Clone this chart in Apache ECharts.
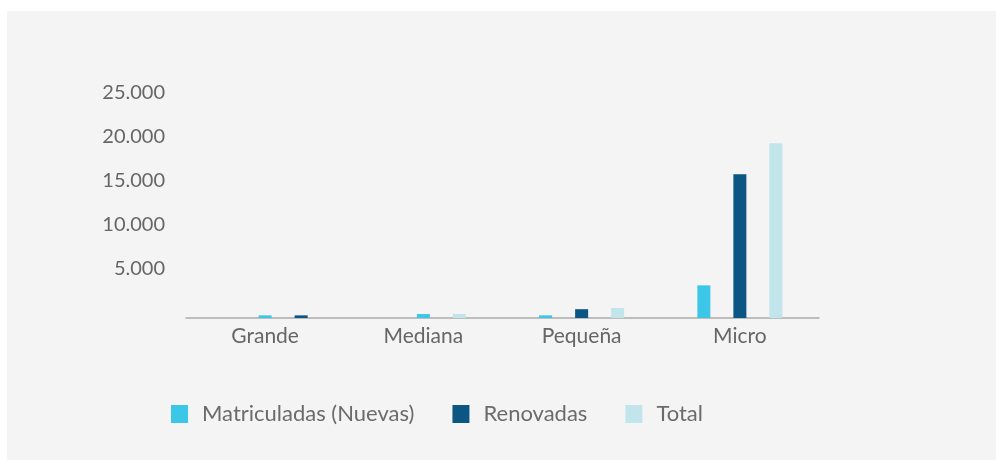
<!DOCTYPE html>
<html>
<head>
<meta charset="utf-8">
<script src="https://cdn.jsdelivr.net/npm/echarts@6/dist/echarts.min.js"></script>
<style>
  html, body { margin: 0; padding: 0; background: #ffffff; }
  #chart { position: absolute; left: 7px; top: 11px; width: 989px; height: 449px; background: #f4f4f4; }
</style>
</head>
<body>
<div id="chart"></div>
<script>
// Categories and bar values by slot (left, middle, right).
const categories = ["Grande", "Mediana", "Pequeña", "Micro"]
const seriesNames = ["Matriculadas (Nuevas)", "Renovadas", "Total"]
const slotLeft = [0, 0, 300, 3700]
const slotMiddle = [300, 450, 1000, 16300]
const slotRight = [300, 450, 1130, 19800]
const yTicks = [0, 5000, 10000, 15000, 20000, 25000]

const colors = ["#3cc6e8", "#0b5683", "#c2e4eb"]

// In the source, Grande and Mediana have their bars shifted one slot right.
const slotColors = [
  [colors[0], colors[0], colors[0], colors[0]],
  [colors[0], colors[0], colors[1], colors[1]],
  [colors[1], colors[2], colors[2], colors[2]],
]

const slots = [slotLeft, slotMiddle, slotRight]

const chart = echarts.init(document.getElementById("chart"), null, { renderer: "canvas" })

const fmt = v => (v === 0 ? "" : v.toString().replace(/\B(?=(\d{3})+(?!\d))/g, "."))

chart.setOption({
  animation: false,
  color: colors,
  textStyle: { fontFamily: "Lato" },
  grid: { left: 179, right: 177, top: 86.5, bottom: 142, containLabel: false },
  legend: {
    left: 159,
    top: 387,
    itemWidth: 17,
    itemHeight: 18,
    itemGap: 38,
    icon: "rect",
    textStyle: { color: "#6b6b6b", fontSize: 22, fontFamily: "Lato", padding: [0, 0, 0, 9] },
    data: seriesNames,
  },
  xAxis: {
    type: "category",
    data: categories,
    axisLine: { lineStyle: { color: "#ababab", width: 1.5 } },
    axisTick: { show: false },
    axisLabel: { color: "#666666", fontSize: 21, margin: 8 },
  },
  yAxis: {
    type: "value",
    min: yTicks[0],
    max: yTicks[yTicks.length - 1],
    interval: yTicks[1] - yTicks[0],
    splitLine: { show: false },
    axisLine: { show: false },
    axisTick: { show: false },
    axisLabel: {
      color: "#666666",
      fontSize: 20,
      margin: 21,
      verticalAlign: "bottom",
      lineHeight: 10,
      formatter: fmt,
    },
  },
  series: slots.map((vals, s) => ({
    name: seriesNames[s],
    type: "bar",
    barWidth: 13,
    barGap: "177%",
    itemStyle: { color: colors[s] },
    data: vals.map((v, i) => ({ value: v, itemStyle: { color: slotColors[s][i] } })),
  })),
})

window.addEventListener("resize", () => chart.resize())
</script>
</body>
</html>
